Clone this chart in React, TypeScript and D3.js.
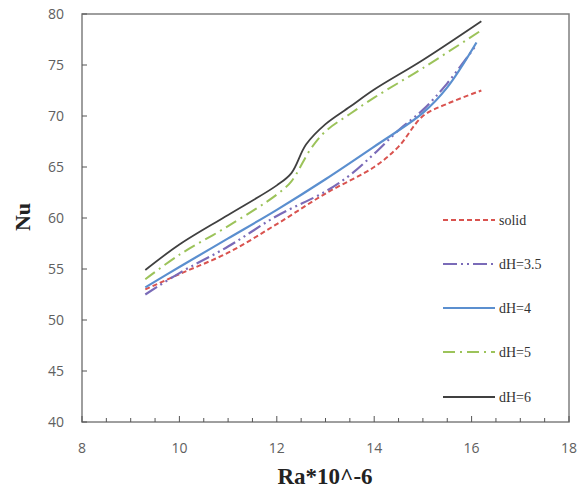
import React from "react";
import * as d3 from "d3";

const xTicks = [8, 10, 12, 14, 16, 18];
const yTicks = [40, 45, 50, 55, 60, 65, 70, 75, 80];

const solidX = [9.3, 10, 11, 12, 13, 14, 14.5, 15, 15.5, 16.2];
const solidY = [53, 54.5, 56.6, 59.4, 62.4, 65, 67, 70, 71.2, 72.5];

const dh35X = [9.3, 10, 11, 12, 13, 13.5, 14, 14.5, 15, 15.5, 16.1];
const dh35Y = [52.5, 54.6, 57.2, 60.2, 62.6, 64.2, 66.3, 68.6, 70.6, 73.2, 77];

const dh4X = [9.3, 10, 11, 12, 13, 14, 15, 15.5, 16.1];
const dh4Y = [53.2, 55.2, 58, 60.8, 63.8, 67, 70.3, 72.8, 77.2];

const dh5X = [9.3, 10, 11, 12, 12.3, 12.7, 13, 13.5, 14, 15, 16.2];
const dh5Y = [54, 56.4, 59.2, 62.3, 63.6, 66.8, 68.5, 70.2, 71.8, 74.7, 78.4];

const dh6X = [9.3, 10, 11, 12, 12.3, 12.6, 13, 13.5, 14, 15, 16.2];
const dh6Y = [54.9, 57.4, 60.3, 63.2, 64.4, 67.2, 69.2, 70.9, 72.6, 75.5, 79.3];

const seriesNames = ["solid", "dH=3.5", "dH=4", "dH=5", "dH=6"];
const seriesX = [solidX, dh35X, dh4X, dh5X, dh6X];
const seriesY = [solidY, dh35Y, dh4Y, dh5Y, dh6Y];
const colors = ["#d9534f", "#7a6bb8", "#5b8fcf", "#9cc35a", "#404040"];
const dashes = ["5,3", "14,4,2,4,2,4", "", "12,5,2,5", ""];
const widths = [2, 2.2, 2.2, 2, 1.8];

export default function App() {
  const W = 581, H = 500;
  const L = 82, T = 14, R = 569, B = 422;
  const x = d3.scaleLinear().domain([8, 18]).range([L, R]);
  const y = d3.scaleLinear().domain([40, 80]).range([B, T]);
  const line = d3
    .line<[number, number]>()
    .x((d) => x(d[0]))
    .y((d) => y(d[1]))
    .curve(d3.curveCatmullRom.alpha(0.5));
  const minor = d3.range(8, 18.01, 0.5);
  const legendY = [220, 264, 308, 352, 397];
  return (
    <svg width={W} height={H} style={{ position: "absolute", left: 0, top: 0, background: "#fff" }}>
      <rect x={L} y={T} width={R - L} height={B - T} fill="none" stroke="#7f7f7f" strokeWidth={1.5} />
      {minor.map((v, i) => (
        <line key={"mx" + i} x1={x(v)} x2={x(v)} y1={B} y2={B - (Number.isInteger(v) && v % 2 === 0 ? 6 : 4)} stroke="#555" strokeWidth={1} />
      ))}
      {yTicks.map((v) => (
        <line key={"yt" + v} x1={L} x2={L + 5} y1={y(v)} y2={y(v)} stroke="#555" strokeWidth={1} />
      ))}
      {yTicks.map((v) => (
        <text key={"yl" + v} x={L - 18} y={y(v)} dy="0.35em" textAnchor="end" fontFamily="Open Sans, DejaVu Sans, sans-serif" fontSize={14} fill="#606060">
          {v}
        </text>
      ))}
      {xTicks.map((v) => (
        <text key={"xl" + v} x={x(v)} y={B + 26} dy="0.35em" textAnchor="middle" fontFamily="Open Sans, DejaVu Sans, sans-serif" fontSize={14} fill="#606060">
          {v}
        </text>
      ))}
      <text x={325} y={B + 54} dy="0.35em" textAnchor="middle" fontFamily="Liberation Serif, Times New Roman, serif" fontWeight="bold" fontSize={23} fill="#222">
        Ra*10^-6
      </text>
      <text transform={`translate(22,${217}) rotate(-90)`} dy="0.35em" textAnchor="middle" fontFamily="Liberation Serif, Times New Roman, serif" fontWeight="bold" fontSize={22} fill="#222">
        Nu
      </text>
      {seriesNames.map((n, i) => (
        <path
          key={"s" + n}
          d={line(seriesX[i].map((v, j) => [v, seriesY[i][j]] as [number, number])) || ""}
          fill="none"
          stroke={colors[i]}
          strokeWidth={widths[i]}
          strokeDasharray={dashes[i]}
        />
      ))}
      {seriesNames.map((n, i) => (
        <g key={"lg" + n}>
          <line x1={443} x2={495} y1={legendY[i]} y2={legendY[i]} stroke={colors[i]} strokeWidth={widths[i]} strokeDasharray={dashes[i]} />
          <text x={499} y={legendY[i]} dy="0.35em" fontFamily="Liberation Serif, Times New Roman, serif" fontSize={14} fill="#333">
            {n}
          </text>
        </g>
      ))}
    </svg>
  );
}
